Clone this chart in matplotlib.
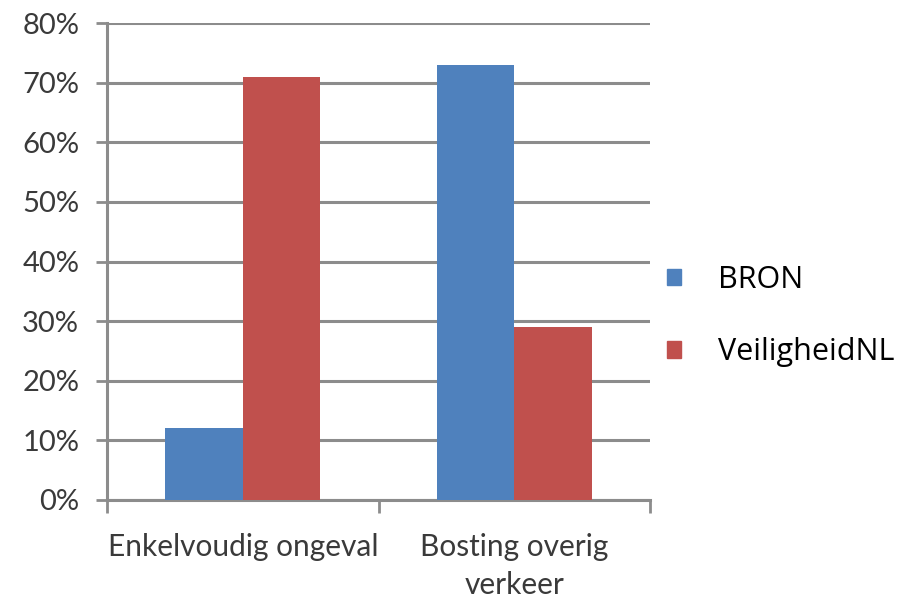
import matplotlib
matplotlib.use("Agg")
import matplotlib.pyplot as plt
import numpy as np
from matplotlib.patches import Patch

categories = ["Enkelvoudig ongeval", "Bosting overig\nverkeer"]
series_names = ["BRON", "VeiligheidNL"]
bron = [12, 73]
veiligheid = [71, 29]
yticks = [0, 10, 20, 30, 40, 50, 60, 70, 80]
colors = ["#4F81BD", "#C0504D"]

fig = plt.figure(figsize=(9.06, 5.98), dpi=100)
ax = fig.add_axes([107/906, 1-500/598, (650-107)/906, (500-23)/598])

x = np.arange(len(categories))
w = 0.286
ax.bar(x - w/2, bron, width=w, color=colors[0], zorder=3)
ax.bar(x + w/2, veiligheid, width=w, color=colors[1], zorder=3)

ax.set_xlim(-0.5, 1.5)
ax.set_ylim(0, 80)
ax.set_yticks(yticks)
ax.set_yticklabels([f"{v}%" for v in yticks], fontfamily="Lato", fontsize=21, color="#3a3a3a")
ax.yaxis.grid(True, color="#8c8c8c", linewidth=2.2, zorder=0)
ax.set_axisbelow(True)

ax.set_xticks(x)
ax.set_xticklabels(categories, fontfamily="Lato", fontsize=21.5, color="#3a3a3a", linespacing=1.4)
ax.tick_params(axis="x", which="major", length=0, pad=24)
ax.set_xticks([-0.5, 0.5, 1.5], minor=True)
ax.tick_params(axis="x", which="minor", length=9, width=2, color="#8c8c8c")
ax.tick_params(axis="y", length=8, width=2, color="#8c8c8c", pad=12)

for s in ["top", "right"]:
    ax.spines[s].set_visible(False)
for s in ["left", "bottom"]:
    ax.spines[s].set_color("#8c8c8c")
    ax.spines[s].set_linewidth(2.2)

handles = [Patch(color=c) for c in colors]
fig.legend(handles, series_names, loc="center left", bbox_to_anchor=(661/906, 1-316/598),
           frameon=False, prop={"family": "Open Sans", "size": 22},
           handlelength=0.45, handleheight=0.45, handletextpad=1.2, labelspacing=1.4,
           borderaxespad=0, borderpad=0.2)

fig.savefig("out.png", dpi=100)
